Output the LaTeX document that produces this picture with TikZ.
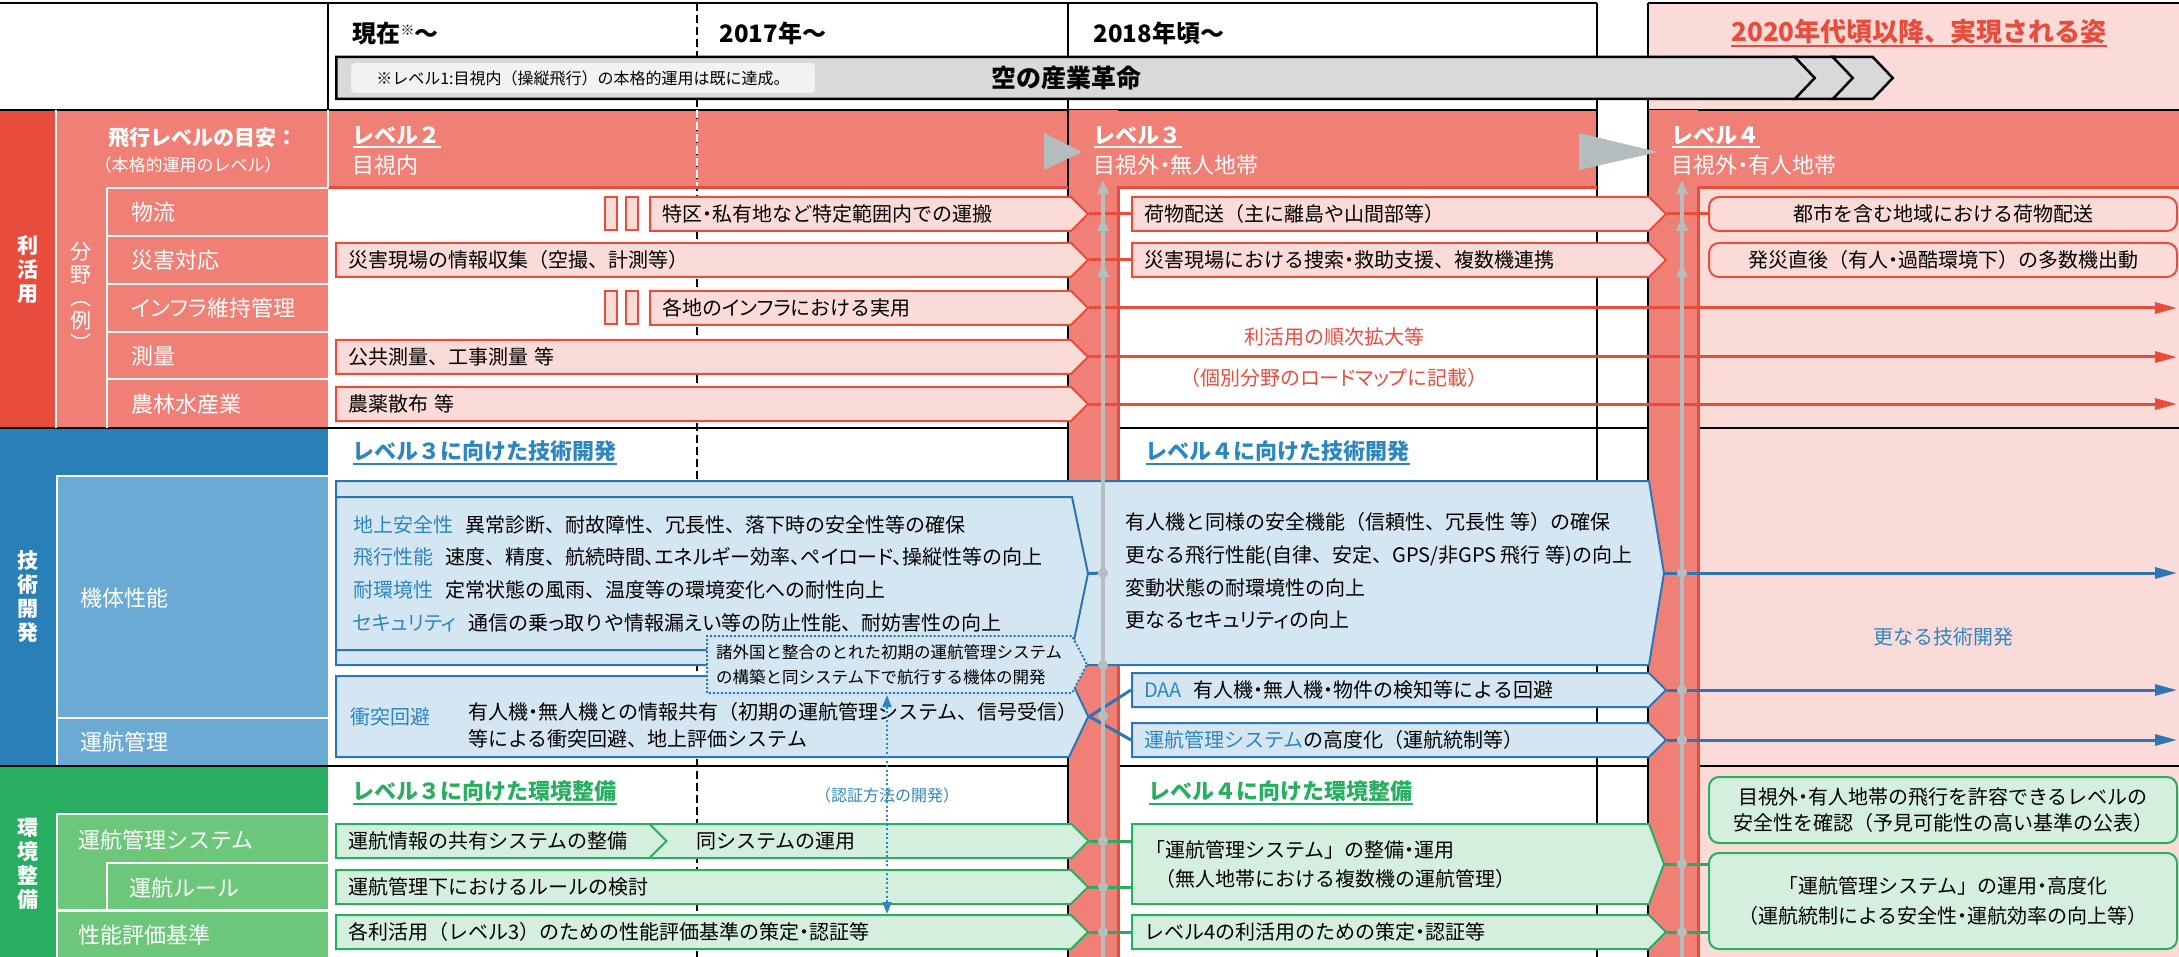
\documentclass[tikz,border=0pt]{standalone}
\usepackage{fontspec}
\setmainfont{Noto Sans CJK JP}
\newfontfamily\pkfont{Noto Sans CJK JP}[RawFeature=+palt]
\usetikzlibrary{shapes.symbols, arrows.meta}
\usetikzlibrary{positioning}

\definecolor{redbar}{RGB}{231,76,60}
\definecolor{salmon}{RGB}{240,128,118}
\definecolor{palered}{RGB}{250,219,216}
\definecolor{redline}{RGB}{231,76,60}
\definecolor{bluebar}{RGB}{41,128,185}
\definecolor{bluecell}{RGB}{107,170,210}
\definecolor{paleblue}{RGB}{212,230,241}
\definecolor{blueline}{RGB}{46,117,182}
\definecolor{bluetext}{RGB}{46,134,193}
\definecolor{greenbar}{RGB}{39,174,96}
\definecolor{greencell}{RGB}{109,199,122}
\definecolor{palegreen}{RGB}{213,239,222}
\definecolor{greenline}{RGB}{39,174,96}
\definecolor{greentext}{RGB}{39,174,96}
\definecolor{graymark}{RGB}{180,190,190}
\definecolor{bandgray}{RGB}{217,217,217}

\newcommand{\fsz}[2]{\fontsize{#1pt}{#2pt}\selectfont}
\newcommand{\pk}[1]{{\pkfont #1}}
\newcommand{\ulbar}[2]{\setbox0=\hbox{#2}\leavevmode\rlap{\rule[-#1]{\wd0}{2pt}}\box0}

\tikzstyle{gridline} = [black, line width=2.5pt]
\tikzstyle{dashline} = [black, line width=2pt, dash pattern=on 8pt off 4pt]
\tikzstyle{redborder} = [redline, line width=3pt]
\tikzstyle{sepline} = [white, line width=2pt]
\tikzstyle{flow} = [signal, signal to=east, signal pointer angle=90, line width=2pt, minimum height=34pt, inner xsep=12pt, inner ysep=0pt, align=left, anchor=west, font=\fsz{20}{24}]
\tikzstyle{useflow} = [flow, draw=redline, fill=palered]
\tikzstyle{techflow} = [flow, draw=blueline, fill=paleblue]
\tikzstyle{envflow} = [flow, draw=greenline, fill=palegreen]
\tikzstyle{gapbar} = [rectangle, draw=redline, fill=palered, line width=2pt, minimum width=12pt, minimum height=33pt, inner sep=0pt]
\tikzstyle{goal} = [rectangle, rounded corners=10pt, line width=2pt, minimum width=468pt, minimum height=34pt, align=center, font=\fsz{20}{26}]
\tikzstyle{goalred} = [goal, draw=redline, fill=palered]
\tikzstyle{goalgreen} = [goal, draw=greenline, fill=palegreen]
\tikzstyle{band} = [signal, signal to=east, signal pointer angle=92.8, fill=bandgray, draw=black, line width=2.5pt, minimum height=42pt, inner xsep=12pt, inner ysep=0pt, anchor=west, align=center, font=\fsz{25}{28}\bfseries]
\tikzstyle{chevron} = [signal, signal from=west, signal to=east, signal pointer angle=92.8, fill=bandgray, draw=black, line width=2.5pt, minimum height=42pt, inner xsep=10pt, inner ysep=0pt, anchor=west]
\tikzstyle{notebox} = [rectangle, rounded corners=4pt, fill=black!5, draw=black!15, line width=1pt, minimum width=465pt, minimum height=31pt, font=\fsz{16}{18}]
\tikzstyle{redlink} = [redline, line width=3pt]
\tikzstyle{redarrow} = [redlink, -{Triangle[width=11pt, length=22pt]}]
\tikzstyle{bluelink} = [blueline, line width=3pt]
\tikzstyle{bluearrow} = [bluelink, -{Triangle[width=11pt, length=22pt]}]
\tikzstyle{greenlink} = [greenline, line width=3pt]
\tikzstyle{grayarrow} = [graymark, line width=3.5pt, -{Triangle[width=11pt, length=14pt]}]
\tikzstyle{certarrow} = [bluetext, line width=2pt, dash pattern=on 2pt off 2.5pt, {Triangle[width=9pt, length=12pt]}-{Triangle[width=9pt, length=12pt]}]
\tikzstyle{graydot} = [circle, fill=graymark, inner sep=0pt, minimum size=10pt]
\tikzstyle{sidetext} = [white, font=\fsz{21}{24}\bfseries, align=center]
\tikzstyle{celltext} = [white, font=\fsz{22}{26}, anchor=west]
\tikzstyle{headtext} = [font=\fsz{24}{28}\bfseries, anchor=west]
\tikzstyle{lvtitle} = [white, font=\fsz{22}{26}\bfseries, anchor=west]
\tikzstyle{lvsub} = [white, font=\fsz{22}{26}, anchor=west]
\tikzstyle{sectitle} = [font=\fsz{22}{26}\bfseries, anchor=west]

\begin{document}
\begin{tikzpicture}[x=1pt, y=-1pt]
\useasboundingbox (0,0) rectangle (2179,957);
\coordinate (right_edge) at (2177,0);

% section backgrounds
\fill[palered] (1648,3) rectangle (2179,110);
\fill[redbar] (0,110) rectangle (56,428);
\fill[salmon] (56,110) rectangle (1597,188);
\fill[salmon] (1648,110) rectangle (2179,188);
\fill[salmon] (56,188) rectangle (328,428);
\fill[palered] (1698,188) rectangle (2179,957);
\fill[bluebar] (0,428) rectangle (56,766);
\fill[bluebar] (56,428) rectangle (328,475);
\fill[bluecell] (58,477) rectangle (328,717);
\fill[bluecell] (58,719) rectangle (328,766);
\fill[greenbar] (0,766) rectangle (56,957);
\fill[greenbar] (56,766) rectangle (328,813);
\fill[greencell] (58,815) rectangle (328,909);
\fill[greencell] (58,912) rectangle (328,957);

% grid
\draw[gridline] (0,3) -- (1597,3) (1648,3) -- (2179,3);
\draw[gridline] (0,110) -- (1597,110) (1648,110) -- (2179,110);
\draw[gridline] (0,428) -- (2179,428);
\draw[gridline] (0,766) -- (2179,766);
\fill[salmon] (1068,110) rectangle (1118,957);
\fill[salmon] (1648,110) rectangle (1698,957);
\draw[gridline] (328,3) -- (328,110);
\draw[gridline] (1068,3) -- (1068,957);
\draw[gridline] (1597,3) -- (1597,957);
\draw[gridline] (1648,3) -- (1648,957);
\draw[dashline] (697,3) -- (697,957);
\draw[dashline, white] (697,110) -- (697,188);
\draw[redborder] (328,188) -- (1068,188);
\draw[redborder] (1118,957) -- (1118,188) -- (1597,188);
\draw[redborder] (1698,957) -- (1698,188) -- (2179,188);

% cell separators
\draw[sepline] (56,110) -- (56,428);
\draw[sepline] (328,110) -- (328,188);
\draw[sepline] (107,188) -- (107,428);
\foreach \y in {188,236,284,332,379}
  \draw[sepline] (107,\y) -- (328,\y);
\draw[sepline] (107,909) -- (107,863) -- (328,863);

% level triangles
\fill[graymark] (1044,133) -- (1082,152) -- (1044,170) -- cycle;
\fill[graymark] (1579,133) -- (1658,152) -- (1579,170) -- cycle;

% header
\node (now_head) [headtext] at (349,33) {現在{\fsz{14}{14}\raisebox{7pt}{※}}～};
\node (y2017_head) [headtext] at (716,33) {2017年～};
\node (y2018_head) [headtext] at (1090,33) {2018年頃～};
\node (future_head) [font=\fsz{26}{30}\bfseries, text=redline] at (1919,33) {\ulbar{6pt}{2020年代頃以降、実現される姿}};
\node (industry_band) [band, text width=1436pt] at (335,78) {空の産業革命};
\node (band_chev_a) [chevron] at (1813,78) {};
\node (band_chev_b) [chevron] at (1851,78) {};
\node (note_box) [notebox] at (583,78) {※レベル1:目視内（操縦飛行）の本格的運用は既に達成。};

% utilization
\node (use_side) [sidetext] at (28,270) {利\\活\\用};
\node (use_guide) [white, font=\fsz{21}{24}\bfseries] at (203,138) {飛行レベルの目安：};
\node (use_guide_sub) [white, font=\fsz{17}{20}] at (188,165) {（本格的運用のレベル）};
\node (use_field) [white, font=\fsz{21}{23}, align=center] at (81,297) {分\\野\\︵\\例\\︶};
\node (cat_logi) [celltext] at (128,212) {物流};
\node (cat_disaster) [celltext] at (128,260) {災害対応};
\node (cat_infra) [celltext] at (128,308) {\pk{インフラ}維持管理};
\node (cat_survey) [celltext] at (128,356) {測量};
\node (cat_agri) [celltext] at (128,404) {農林水産業};

\node (lv2_title) [lvtitle] at (349,137) {\ulbar{5pt}{レベル２}};
\node (lv2_sub) [lvsub] at (349,165) {目視内};
\node (lv3_title) [lvtitle] at (1090,137) {\ulbar{5pt}{レベル３}};
\node (lv3_sub) [lvsub] at (1090,165) {目視外\pk{・}無人地帯};
\node (lv4_title) [lvtitle] at (1668,137) {\ulbar{5pt}{レベル４}};
\node (lv4_sub) [lvsub] at (1668,165) {目視外\pk{・}有人地帯};

\node (logi_gap_a) [gapbar] at (611,214) {};
\node (logi_gap_b) [gapbar] at (632,214) {};
\node (infra_gap_a) [gapbar] at (611,308) {};
\node (infra_gap_b) [gapbar] at (632,308) {};
\node (use_logi) [useflow, text width=397pt] at (649,214) {特区\pk{・}私有地など特定範囲内での運搬};
\node (use_disaster) [useflow, text width=711pt] at (335,260) {災害現場の情報収集（空撮、計測等）};
\node (use_infra) [useflow, text width=397pt] at (649,308) {各地の\pk{インフラ}における実用};
\node (use_survey) [useflow, text width=711pt] at (335,357) {公共測量、工事測量 等};
\node (use_agri) [useflow, text width=711pt] at (335,404) {農薬散布 等};
\node (use_l3_cargo) [useflow, text width=493pt] at (1131,214) {荷物配送（主に離島や山間部等）};
\node (use_l3_search) [useflow, text width=493pt] at (1131,260) {災害現場における捜索\pk{・}救助支援、複数機連携};
\node (goal_cargo) [goalred] at (1943,214) {都市を含む地域における荷物配送};
\node (goal_rescue) [goalred] at (1943,260) {発災直後（有人\pk{・}過酷環境下）の多数機出動};
\node (use_expand) [text=redline, font=\fsz{20}{24}] at (1334,337) {利活用の順次拡大等};
\node (use_expand_sub) [text=redline, font=\fsz{20}{24}] at (1334,378) {（個別分野の\pk{ロードマップ}に記載）};

\draw[redlink] (use_logi.east) -- (use_l3_cargo.west);
\draw[redlink] (use_disaster.east) -- (use_l3_search.west);
\draw[redlink] (use_l3_cargo.east) -- (goal_cargo.west);
\draw[redarrow] (use_infra.east) -- (use_infra.east -| right_edge);
\draw[redarrow] (use_survey.east) -- (use_survey.east -| right_edge);
\draw[redarrow] (use_agri.east) -- (use_agri.east -| right_edge);

% technology
\node (tech_side) [sidetext] at (28,597) {技\\術\\開\\発};
\node (cat_airframe) [celltext] at (77,598) {機体性能};
\node (cat_traffic) [celltext] at (77,742) {運航管理};
\node (tech_l3_title) [sectitle, text=bluetext] at (349,453) {\ulbar{5pt}{レベル３に向けた技術開発}};
\node (tech_l4_title) [sectitle, text=bluetext] at (1142,453) {\ulbar{5pt}{レベル４に向けた技術開発}};

\node (tech_l4) [techflow, minimum height=184pt, signal pointer angle=161.5, text width=1289pt] at (335,573) {};
\node (tech_l3) [techflow, minimum height=153pt, signal pointer angle=156.4, inner xsep=17pt, text width=702pt, font=\fsz{20}{32.7}] at (335,573.5) {\textcolor{bluetext}{地上安全性}\hspace{12pt}異常診断、耐故障性、冗長性、落下時の安全性等の確保\\
\textcolor{bluetext}{飛行性能}\hspace{12pt}速度、精度、航続時間\pk{、エネルギー}効率\pk{、ペイロード、}操縦性等の向上\\
\textcolor{bluetext}{耐環境性}\hspace{12pt}定常状態の風雨、温度等の環境変化への耐性向上\\
\textcolor{bluetext}{\pk{セキュリティ}}\hspace{12pt}通信の乗\pk{っ}取りや情報漏\pk{えい}等の防止性能、耐妨害性の向上};
\node (tech_l4_text) [anchor=west, font=\fsz{20}{32.7}, align=left] at (1122,571) {有人機と同様の安全機能（信頼性、冗長性 等）の確保\\
更なる飛行性能(自律、安定、GPS/非GPS 飛行 等)の向上\\
変動状態の耐環境性の向上\\
更なる\pk{セキュリティ}の向上};
\node (tech_avoid) [techflow, minimum height=81pt, signal pointer angle=129.2, inner xsep=14pt, text width=705pt] at (335,716.5) {\textcolor{bluetext}{衝突回避}};
\node (tech_avoid_text) [anchor=west, font=\fsz{20}{27}, align=left] at (465,725) {有人機\pk{・}無人機との情報共有（初期の運航管理システム、信号受信）\\等による衝突回避、地上評価システム};
\node (tech_intl) [techflow, dash pattern=on 2pt off 2pt, minimum height=57pt, signal pointer angle=124.5, inner xsep=9pt, text width=347pt, font=\fsz{16.5}{25}] at (706,664.5) {諸外国と整合のとれた初期の運航管理システム\\の構築と同システム下で航行する機体の開発};
\node (tech_daa) [techflow, text width=493pt] at (1131,690) {\textcolor{bluetext}{DAA}\hspace{12pt}有人機\pk{・}無人機\pk{・}物件の検知等による回避};
\node (tech_utm) [techflow, text width=493pt] at (1131,740) {\textcolor{bluetext}{運航管理システム}の高度化（運航統制等）};
\node (tech_more) [text=bluetext, font=\fsz{20}{24}] at (1943,637) {更なる技術開発};

% environment
\node (env_side) [sidetext] at (28,864) {環\\境\\整\\備};
\node (cat_utm) [celltext] at (75,840) {運航管理システム};
\node (cat_rule) [celltext] at (126,888) {運航ルール};
\node (cat_perf) [celltext] at (75,935) {性能評価基準};
\node (env_l3_title) [sectitle, text=greentext] at (349,793) {\ulbar{5pt}{レベル３に向けた環境整備}};
\node (env_l4_title) [sectitle, text=greentext] at (1145,793) {\ulbar{5pt}{レベル４に向けた環境整備}};
\node (env_cert_note) [text=bluetext, font=\fsz{16}{20}] at (887,795) {（認証方法の開発）};

\node (env_share) [envflow, text width=297pt, signal pointer angle=101] at (335,841) {運航情報の共有システムの整備};
\node (env_operate) [envflow, signal from=west, text width=381pt] at (665,841) {\hspace*{18pt}同システムの運用};
\node (env_rule) [envflow, text width=711pt] at (335,887) {運航管理下におけるルールの検討};
\node (env_perf) [envflow, text width=711pt] at (335,932) {各利活用（レベル3）のための性能評価基準の策定\pk{・}認証等};
\node (env_l4_system) [envflow, minimum height=80pt, signal pointer angle=138.9, inner xsep=13pt, text width=491pt, font=\fsz{20}{29}] at (1131,864) {「運航管理システム」の整備\pk{・}運用\\\hspace*{10pt}（無人地帯における複数機の運航管理）};
\node (env_l4_cert) [envflow, text width=493pt] at (1131,932) {レベル4の利活用のための策定\pk{・}認証等};
\node (goal_safety) [goalgreen, minimum height=66pt] at (1943,810) {目視外\pk{・}有人地帯の飛行を許容できるレベルの\\安全性を確認（予見可能性の高い基準の公表）};
\node (goal_utm) [goalgreen, minimum height=96pt, font=\fsz{20}{30}] at (1943,901) {「運航管理システム」の運用\pk{・}高度化\\（運航統制による安全性\pk{・}運航効率の向上等）};

% connectors
\draw[bluelink] (tech_avoid.east) -- (tech_daa.west);
\draw[bluelink] (tech_avoid.east) -- (tech_utm.west);
\draw[bluearrow] (tech_l4.east) -- (tech_l4.east -| right_edge);
\draw[bluearrow] (tech_daa.east) -- (tech_daa.east -| right_edge);
\draw[bluearrow] (tech_utm.east) -- (tech_utm.east -| right_edge);
\draw[greenlink] (env_operate.east) -- (env_operate.east -| env_l4_system.west);
\draw[greenlink] (env_rule.east) -- (env_rule.east -| env_l4_system.west);
\draw[greenlink] (env_perf.east) -- (env_l4_cert.west);
\draw[greenlink] (env_l4_system.east) -- (env_l4_system.east -| goal_utm.west);
\draw[greenlink] (env_l4_cert.east) -- (env_l4_cert.east -| goal_utm.west);
\coordinate (cert_top) at (887,695);
\draw[certarrow] (cert_top) -- (cert_top |- env_perf.north);

% level lines
\coordinate (l3_base) at (1103,957);
\coordinate (l4_base) at (1682,957);
\foreach \t in {180,217,263} {
  \draw[grayarrow] (l3_base) -- (1103,\t);
  \draw[grayarrow] (l4_base) -- (1682,\t);
}
\node (l3_dot_tech) [graydot] at (1103,573) {};
\node (l3_dot_bottom) [graydot] at (1103,665) {};
\node (l3_dot_avoid) [graydot] at (1103,716) {};
\node (l3_dot_share) [graydot] at (1103,841) {};
\node (l3_dot_rule) [graydot] at (1103,887) {};
\node (l3_dot_perf) [graydot] at (1103,932) {};
\node (l4_dot_tech) [graydot] at (1682,573) {};
\node (l4_dot_daa) [graydot] at (1682,690) {};
\node (l4_dot_utm) [graydot] at (1682,740) {};
\node (l4_dot_system) [graydot] at (1682,864) {};
\node (l4_dot_cert) [graydot] at (1682,932) {};
\draw[bluelink] (tech_l3.east) -- (l3_dot_tech);
\end{tikzpicture}
\end{document}
